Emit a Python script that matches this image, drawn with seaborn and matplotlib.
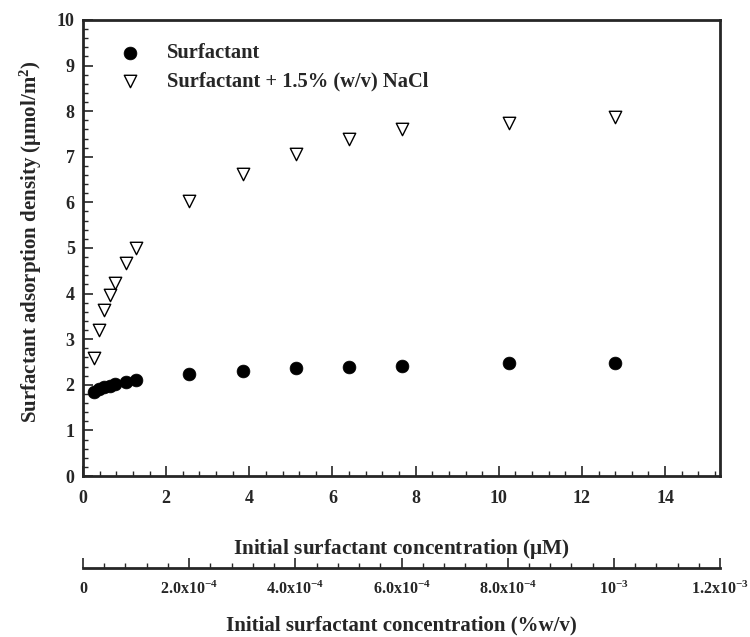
import matplotlib
matplotlib.use("Agg")
import matplotlib.pyplot as plt
from matplotlib.ticker import MultipleLocator, FixedLocator, FixedFormatter
import seaborn as sns
import pandas as pd

# ---- data ----
conc_uM = [0.256, 0.384, 0.512, 0.64, 0.768, 1.024, 1.28, 2.56, 3.84, 5.12, 6.4, 7.68, 10.24, 12.8]
surf = [1.84, 1.90, 1.95, 1.98, 2.02, 2.07, 2.11, 2.23, 2.30, 2.36, 2.39, 2.41, 2.47, 2.47]
surf_nacl = [2.58, 3.20, 3.64, 3.98, 4.23, 4.66, 4.99, 6.02, 6.63, 7.07, 7.39, 7.61, 7.75, 7.88]
series_names = ["Surfactant", "Surfactant + 1.5% (w/v) NaCl"]
x_ticks = [0, 2, 4, 6, 8, 10, 12, 14]
y_ticks = [0, 1, 2, 3, 4, 5, 6, 7, 8, 9, 10]
wv_ticks = [0, 2.0e-4, 4.0e-4, 6.0e-4, 8.0e-4, 1.0e-3, 1.2e-3]
wv_labels = ["0", r"$\mathbf{2.0x10^{-4}}$", r"$\mathbf{4.0x10^{-4}}$", r"$\mathbf{6.0x10^{-4}}$",
             r"$\mathbf{8.0x10^{-4}}$", r"$\mathbf{10^{-3}}$", r"$\mathbf{1.2x10^{-3}}$"]
x_max_uM = 15.32
wv_max = 1.2e-3

df1 = pd.DataFrame({"x": conc_uM, "y": surf})
df2 = pd.DataFrame({"x": conc_uM, "y": surf_nacl})

sns.set_style("ticks")
plt.rcParams["font.family"] = ["Liberation Serif", "DejaVu Serif"]
plt.rcParams["font.weight"] = "bold"
plt.rcParams["axes.labelweight"] = "bold"
plt.rcParams["mathtext.fontset"] = "custom"
plt.rcParams["mathtext.rm"] = "Liberation Serif:bold"
plt.rcParams["mathtext.bf"] = "Liberation Serif:bold"
plt.rcParams["mathtext.it"] = "Liberation Serif:bold:italic"

fig = plt.figure(figsize=(7.5, 6.37), dpi=100)
ax = fig.add_axes([0.1107, 0.2527, 0.8493, 0.716])

sns.scatterplot(data=df1, x="x", y="y", ax=ax, marker="o", s=85, color="black",
                edgecolor="black", linewidth=0.5, label=series_names[0], zorder=3)
sns.scatterplot(data=df2, x="x", y="y", ax=ax, marker="v", s=80, color="white",
                edgecolor="black", linewidth=1.0, label=series_names[1], zorder=3)

ax.set_xlim(0, x_max_uM)
ax.set_ylim(0, 10)
ax.xaxis.set_major_locator(FixedLocator(x_ticks))
ax.xaxis.set_minor_locator(MultipleLocator(0.4))
ax.yaxis.set_major_locator(FixedLocator(y_ticks))
ax.yaxis.set_minor_locator(MultipleLocator(0.2))
for s in ax.spines.values():
    s.set_linewidth(2.0)
    s.set_visible(True)
ax.tick_params(axis="both", which="major", direction="in", length=7, width=1.2,
               labelsize=13, top=False, right=False)
ax.tick_params(axis="both", which="minor", direction="in", length=3.5, width=1.0,
               top=False, right=False)
ax.tick_params(axis="x", which="major", pad=10)
ax.tick_params(axis="y", which="major", pad=6)
for lab in ax.get_xticklabels() + ax.get_yticklabels():
    lab.set_fontweight("bold")

ax.set_xlabel(r"Initial surfactant concentration ($\mathbf{\mu}$M)", fontsize=15.3,
              fontweight="bold", labelpad=22)
ax.set_ylabel(r"Surfactant adsorption density ($\mathbf{\mu}$mol/m$^{\mathbf{2}}$)",
              fontsize=15, fontweight="bold")
ax.yaxis.set_label_coords(-0.062, 0.514)

leg = ax.legend(loc="upper left", bbox_to_anchor=(0.044, 0.967), frameon=False,
                borderaxespad=0, handlelength=1.0, handletextpad=1.3,
                labelspacing=0.38, prop={"family": "Liberation Serif", "weight": "bold", "size": 14.8})

# secondary axis (%w/v)
factor = wv_max / x_max_uM
sec = ax.secondary_xaxis(-0.2018, functions=(lambda v: v * factor, lambda v: v / factor))
sec.spines["bottom"].set_linewidth(2.0)
sec.xaxis.set_major_locator(FixedLocator(wv_ticks))
sec.xaxis.set_major_formatter(FixedFormatter(wv_labels))
sec.xaxis.set_minor_locator(MultipleLocator(4e-5))
sec.tick_params(axis="x", which="major", direction="in", length=7, width=1.2, labelsize=11.5, pad=9)
sec.tick_params(axis="x", which="minor", direction="in", length=3.5, width=1.0)
for lab in sec.get_xticklabels():
    lab.set_fontweight("bold")
sec.set_xlabel("Initial surfactant concentration (%w/v)", fontsize=15, fontweight="bold",
               labelpad=13)

fig.savefig("out.png", dpi=100, facecolor="white")
